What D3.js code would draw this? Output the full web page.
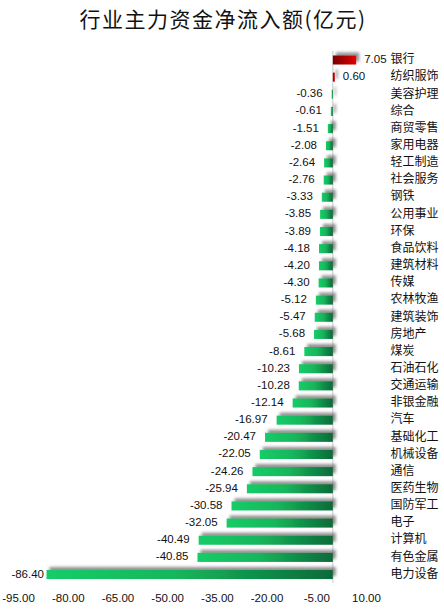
<!DOCTYPE html>
<html><head><meta charset="utf-8">
<script src="https://cdn.jsdelivr.net/npm/d3@7"></script>
<style>
body{margin:0;background:#fff;}
svg{display:block;}
</style></head>
<body>
<svg id="c" width="444" height="613"></svg>
<script>
const categories = ["银行","纺织服饰","美容护理","综合","商贸零售","家用电器","轻工制造","社会服务","钢铁","公用事业","环保","食品饮料","建筑材料","传媒","农林牧渔","建筑装饰","房地产","煤炭","石油石化","交通运输","非银金融","汽车","基础化工","机械设备","通信","医药生物","国防军工","电子","计算机","有色金属","电力设备"];
const values = [7.05,0.60,-0.36,-0.61,-1.51,-2.08,-2.64,-2.76,-3.33,-3.85,-3.89,-4.18,-4.20,-4.30,-5.12,-5.47,-5.68,-8.61,-10.23,-10.28,-12.14,-16.97,-20.47,-22.05,-24.26,-25.94,-30.58,-32.05,-40.49,-40.85,-86.40];
const tickValues = [-95,-80,-65,-50,-35,-20,-5,10];
const title = "行业主力资金净流入额(亿元)";

const data = categories.map((c,i)=>({cat:c, v:values[i]}));
const svg = d3.select("#c");
const defs = svg.append("defs");

const gG = defs.append("linearGradient").attr("id","gGreen").attr("x1",0).attr("x2",1).attr("y1",0).attr("y2",0);
gG.append("stop").attr("offset","0%").attr("stop-color","#18cc68");
gG.append("stop").attr("offset","45%").attr("stop-color","#15b65c");
gG.append("stop").attr("offset","100%").attr("stop-color","#0b6a39");
const gR = defs.append("linearGradient").attr("id","gRed").attr("x1",0).attr("x2",1).attr("y1",0).attr("y2",0);
gR.append("stop").attr("offset","0%").attr("stop-color","#760000");
gR.append("stop").attr("offset","100%").attr("stop-color","#e40000");

const f = defs.append("filter").attr("id","sh").attr("filterUnits","userSpaceOnUse")
  .attr("x",0).attr("y",0).attr("width",444).attr("height",613);
f.append("feGaussianBlur").attr("in","SourceAlpha").attr("stdDeviation",1.4).attr("result","b");
f.append("feOffset").attr("in","b").attr("dx",3).attr("dy",-3).attr("result","o");
f.append("feFlood").attr("flood-color","#6e6e6e").attr("flood-opacity",0.75).attr("result","fl");
f.append("feComposite").attr("in","fl").attr("in2","o").attr("operator","in").attr("result","s");
const m = f.append("feMerge");
m.append("feMergeNode").attr("in","s");
m.append("feMergeNode").attr("in","SourceGraphic");

const x = d3.scaleLinear().domain([-95,10]).range([18,366]);
const y = d3.scaleBand().domain(categories).range([51.4,583.1]).paddingInner(0.47).paddingOuter(0.235);

// title
svg.append("text").attr("x",223).attr("y",21).attr("text-anchor","middle").attr("dominant-baseline","middle")
  .attr("font-family","'Noto Sans CJK SC','Noto Sans CJK JP',sans-serif").attr("font-size",21)
  .attr("letter-spacing",1.5).attr("fill","#111").text(title);

// zero line
svg.append("line").attr("x1",x(0)).attr("x2",x(0)).attr("y1",51).attr("y2",583)
  .attr("stroke","#c8c8c8").attr("stroke-width",1);

// bars
svg.append("g").selectAll("rect").data(data).join("rect")
  .attr("x",d=>x(Math.min(0,d.v)))
  .attr("y",d=>y(d.cat))
  .attr("width",d=>Math.abs(x(d.v)-x(0)))
  .attr("height",y.bandwidth())
  .attr("fill",d=>d.v<0?"url(#gGreen)":"url(#gRed)")
  .attr("filter","url(#sh)");

// value labels
svg.append("g").selectAll("text").data(data).join("text")
  .attr("x",d=>d.v<0?Math.max(x(d.v)-9,44):x(d.v)+8)
  .attr("y",d=>y(d.cat)+y.bandwidth()/2)
  .attr("text-anchor",d=>d.v<0?"end":"start")
  .attr("dominant-baseline","middle")
  .attr("font-family","'Liberation Sans',Arial,sans-serif").attr("font-size",11.5).attr("fill","#111")
  .text(d=>d.v.toFixed(2));

// category labels
svg.append("g").selectAll("text").data(data).join("text")
  .attr("x",390.5)
  .attr("y",d=>y(d.cat)+y.bandwidth()/2)
  .attr("dominant-baseline","middle")
  .attr("font-family","'Noto Sans CJK SC',sans-serif").attr("font-size",12).attr("fill","#111")
  .text(d=>d.cat);

// x axis
const ax = svg.append("g").attr("transform","translate(0,590)")
  .call(d3.axisBottom(x).tickValues(tickValues).tickSize(0).tickPadding(4).tickFormat(d=>d.toFixed(2)));
ax.select(".domain").remove();
ax.selectAll("text").attr("font-family","'Liberation Sans',Arial,sans-serif").attr("font-size",11.5).attr("fill","#111");
</script>
</body></html>
